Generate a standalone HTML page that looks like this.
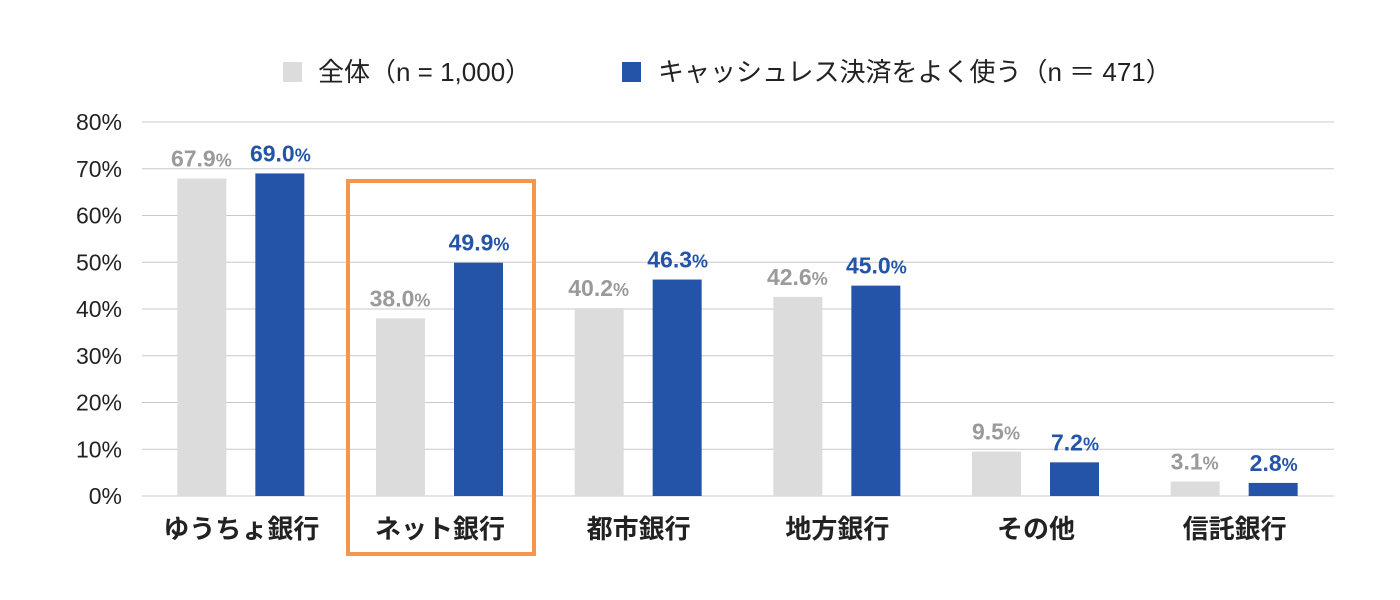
<!DOCTYPE html>
<html><head><meta charset="utf-8"><style>
body{margin:0;background:#fff;}
svg{display:block;font-family:"Liberation Sans","Noto Sans CJK JP",sans-serif;}
</style></head><body>
<svg id="chart" width="1400" height="600" viewBox="0 0 1400 600">
<g id="legend">
<rect x="283" y="62" width="19" height="20" fill="#dcdcdc"/>
<text x="318" y="81" font-size="26" fill="#222">全体（n = 1,000）</text>
<rect x="622" y="62" width="19" height="20" fill="#2454a8"/>
<text x="658" y="81" font-size="26" fill="#222">キャッシュレス決済をよく使う（n ＝ 471）</text>
</g>
<g id="grid"></g><g id="bars"></g>
<rect x="348" y="181" width="186" height="373" fill="none" stroke="#f7964a" stroke-width="4"/>
</svg>
<script>
const categories=["ゆうちょ銀行","ネット銀行","都市銀行","地方銀行","その他","信託銀行"];
const seriesAll=[67.9,38.0,40.2,42.6,9.5,3.1];
const seriesCashless=[69.0,49.9,46.3,45.0,7.2,2.8];
const yTicks=[0,10,20,30,40,50,60,70,80];
const NS="http://www.w3.org/2000/svg";
const x0=142,x1=1334,yBase=496,yTop=122,yMax=80;
const y=v=>yBase-(v/yMax)*(yBase-yTop);
const band=(x1-x0)/categories.length;
const cx=i=>x0+band*(i+0.5);
function mk(tag,attrs,parent){const e=document.createElementNS(NS,tag);for(const k in attrs)e.setAttribute(k,attrs[k]);parent.appendChild(e);return e;}
const grid=document.getElementById('grid'),bars=document.getElementById('bars');
yTicks.forEach(t=>{
 const l=mk('line',{x1:x0,x2:x1,y1:y(t),y2:y(t),stroke:'#c8c8c8','stroke-width':1},grid);
 
 
 const tx=mk('text',{x:122,y:y(t)+8,'text-anchor':'end','font-size':23,fill:'#222'},grid);
 tx.textContent=t+'%';
 
 
});
function label(parent,xc,v,color,name){
 const t=mk('text',{x:xc,y:y(v)-12,'text-anchor':'middle',fill:color,'font-weight':'bold'},parent);
 
 
 const a=mk('tspan',{'font-size':23},t);a.textContent=v.toFixed(1);
 const b=mk('tspan',{'font-size':18},t);b.textContent='%';
}
categories.forEach((c,i)=>{
 const g=cx(i);
 const r1=mk('rect',{x:g-64,y:y(seriesAll[i]),width:49,height:yBase-y(seriesAll[i]),fill:'#dcdcdc'},bars);
 
 
 const r2=mk('rect',{x:g+14,y:y(seriesCashless[i]),width:49,height:yBase-y(seriesCashless[i]),fill:'#2454a8'},bars);
 
 
 label(bars,g-40,seriesAll[i],'#9a9a9a','value-label-all-'+i);
 label(bars,g+39,seriesCashless[i],'#2454a8','value-label-cashless-'+i);
 const t=mk('text',{x:g,y:538,'text-anchor':'middle','font-size':26,'font-weight':'bold',fill:'#222'},bars);
 t.textContent=c;
 
 
});
</script>
</body></html>
